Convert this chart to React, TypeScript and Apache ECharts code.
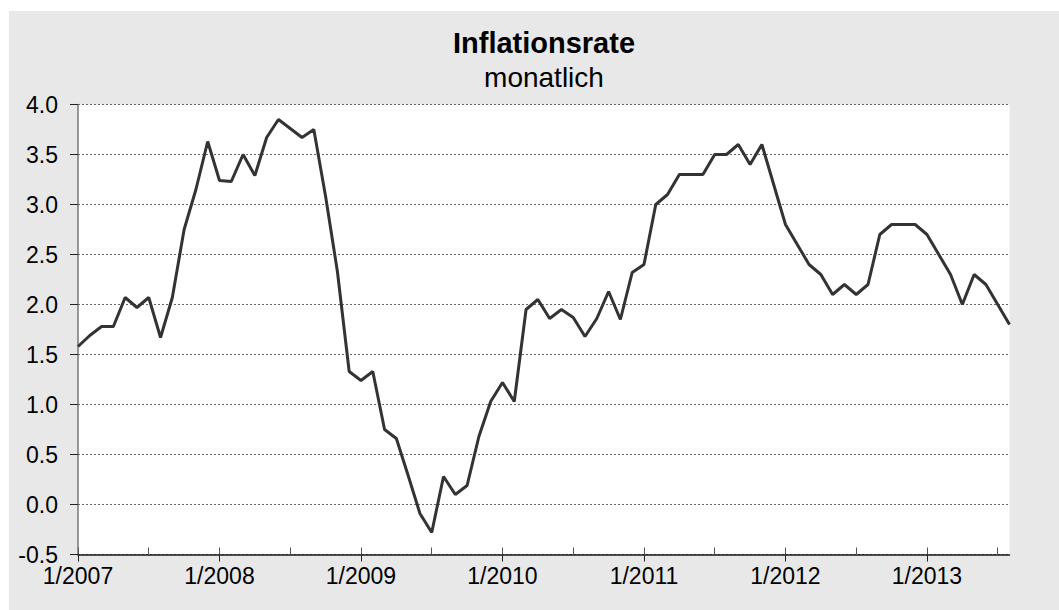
import React, { useEffect, useRef } from "react";
import * as echarts from "echarts";

const titleText = "Inflationsrate";
const subtitleText = "monatlich";

const years = [2007, 2008, 2009, 2010, 2011, 2012, 2013];
const lastMonth2013 = 8;

const infl2007 = [1.58, 1.69, 1.78, 1.78, 2.07, 1.97, 2.07, 1.67, 2.07, 2.75, 3.15, 3.63];
const infl2008 = [3.24, 3.23, 3.5, 3.29, 3.67, 3.85, 3.76, 3.67, 3.75, 3.08, 2.33, 1.33];
const infl2009 = [1.24, 1.33, 0.75, 0.66, 0.29, -0.09, -0.28, 0.28, 0.1, 0.19, 0.68, 1.03];
const infl2010 = [1.22, 1.03, 1.95, 2.05, 1.86, 1.95, 1.87, 1.68, 1.86, 2.13, 1.85, 2.32];
const infl2011 = [2.4, 3.0, 3.1, 3.3, 3.3, 3.3, 3.5, 3.5, 3.6, 3.4, 3.6, 3.2];
const infl2012 = [2.8, 2.6, 2.4, 2.3, 2.1, 2.2, 2.1, 2.2, 2.7, 2.8, 2.8, 2.8];
const infl2013 = [2.7, 2.5, 2.3, 2.0, 2.3, 2.2, 2.0, 1.8];

const yMin = -0.5;
const yMax = 4.0;
const yStep = 0.5;

const FONT = "'Liberation Sans', Arial, Helvetica, sans-serif";

export default function App() {
  const ref = useRef<HTMLDivElement>(null);

  useEffect(() => {
    if (!ref.current) return;
    const chart = echarts.init(ref.current, undefined, { renderer: "svg" });

    const months: string[] = [];
    years.forEach((y) => {
      const n = y === 2013 ? lastMonth2013 : 12;
      for (let m = 1; m <= n; m++) months.push(`${m}/${y}`);
    });
    const values = [
      ...infl2007,
      ...infl2008,
      ...infl2009,
      ...infl2010,
      ...infl2011,
      ...infl2012,
      ...infl2013,
    ];

    chart.setOption({
      animation: false,
      backgroundColor: "transparent",
      grid: {
        left: 78,
        right: 49.5,
        top: 104.5,
        bottom: 55.5,
        show: true,
        backgroundColor: "#ffffff",
        borderWidth: 0,
      },
      graphic: [
        {
          type: "text",
          x: 544,
          y: 43,
          style: {
            text: titleText,
            fill: "#000",
            font: `bold 29px ${FONT}`,
            textAlign: "center",
            textVerticalAlign: "middle",
          },
        },
        {
          type: "text",
          x: 544,
          y: 77,
          style: {
            text: subtitleText,
            fill: "#000",
            font: `28px ${FONT}`,
            textAlign: "center",
            textVerticalAlign: "middle",
          },
        },
      ],
      xAxis: [
        {
          type: "category",
          data: months,
          boundaryGap: false,
          axisLine: { show: true, onZero: false, lineStyle: { color: "#1a1a1a", width: 1.5 } },
          axisTick: {
            show: true,
            inside: true,
            length: 7,
            interval: (i: number) => i % 6 === 0,
            lineStyle: { color: "#555", width: 1 },
          },
          axisLabel: {
            show: true,
            interval: (i: number) => i % 12 === 0,
            color: "#000",
            fontFamily: FONT,
            fontSize: 23,
            margin: 10,
          },
          splitLine: { show: false },
        },
        {
          type: "category",
          data: months,
          boundaryGap: false,
          position: "bottom",
          axisLine: { show: false, onZero: false },
          axisTick: {
            show: true,
            inside: false,
            length: 7,
            interval: (i: number) => i % 12 === 0,
            lineStyle: { color: "#222", width: 1 },
          },
          axisLabel: { show: false },
          splitLine: { show: false },
        },
      ],
      yAxis: {
        type: "value",
        min: yMin,
        max: yMax,
        interval: yStep,
        axisLine: { show: true, lineStyle: { color: "#777", width: 1.5 } },
        axisTick: { show: true, inside: false, length: 8, lineStyle: { color: "#222", width: 1 } },
        axisLabel: {
          color: "#000",
          fontFamily: FONT,
          fontSize: 23,
          margin: 20,
          formatter: (v: number) => v.toFixed(1),
        },
        splitLine: { show: true, lineStyle: { color: "#666", type: [2, 2], width: 1 } },
      },
      series: [
        {
          type: "line",
          name: "Inflationsrate",
          data: values,
          xAxisIndex: 0,
          showSymbol: false,
          symbol: "none",
          lineStyle: { color: "#333333", width: 3 },
          z: 5,
        },
      ],
    });

    return () => chart.dispose();
  }, []);

  return (
    <div style={{ position: "absolute", left: 0, top: 0, width: 1059, height: 610, background: "#fff" }}>
      <div style={{ position: "absolute", left: 9, top: 11, right: 0, bottom: 0, background: "#e8e8e8" }} />
      <div ref={ref} style={{ position: "absolute", left: 0, top: 0, width: 1059, height: 610 }} />
    </div>
  );
}
